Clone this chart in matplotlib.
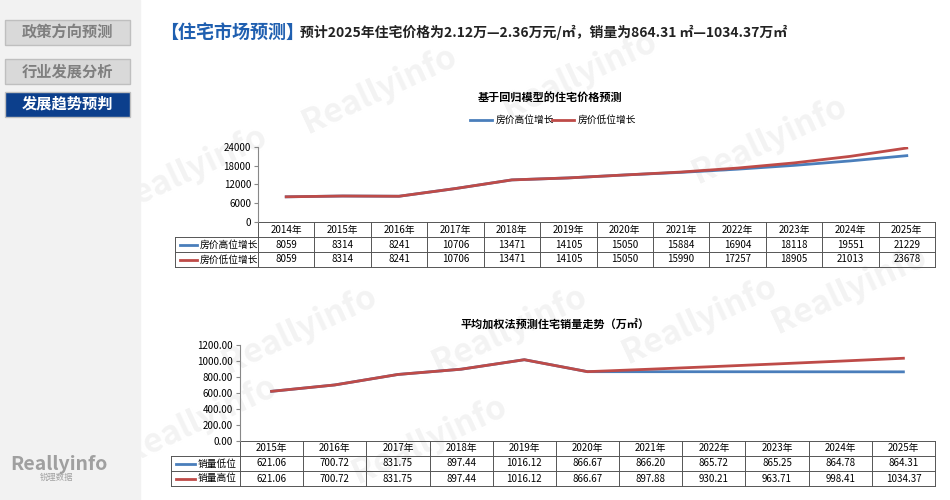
import matplotlib
matplotlib.use("Agg")
import matplotlib.pyplot as plt
from matplotlib.patches import Rectangle
import matplotlib.transforms as mt

plt.rcParams['font.family'] = ['Noto Sans CJK SC', 'DejaVu Sans']

years_top = ["2014年","2015年","2016年","2017年","2018年","2019年","2020年","2021年","2022年","2023年","2024年","2025年"]
price_high = [8059, 8314, 8241, 10706, 13471, 14105, 15050, 15884, 16904, 18118, 19551, 21229]
price_low = [8059, 8314, 8241, 10706, 13471, 14105, 15050, 15990, 17257, 18905, 21013, 23678]
years_bot = ["2015年","2016年","2017年","2018年","2019年","2020年","2021年","2022年","2023年","2024年","2025年"]
sales_low = [621.06, 700.72, 831.75, 897.44, 1016.12, 866.67, 866.20, 865.72, 865.25, 864.78, 864.31]
sales_high = [621.06, 700.72, 831.75, 897.44, 1016.12, 866.67, 897.88, 930.21, 963.71, 998.41, 1034.37]

BLUE = "#4a7ebb"
RED = "#be4b48"
W, H = 950, 500
fig = plt.figure(figsize=(9.5, 5), dpi=100)

def px(x0, y0, x1, y1):
    return [x0 / W, 1 - y1 / H, (x1 - x0) / W, (y1 - y0) / H]

bg = fig.add_axes([0, 0, 1, 1], zorder=0)
bg.set_xlim(0, W); bg.set_ylim(H, 0); bg.axis("off")
bg.add_patch(Rectangle((0, 0), 140, H, color="#f2f2f2", zorder=0))
for (x, y) in [(190, 170), (380, 90), (580, 75), (770, 140), (300, 330), (510, 330), (700, 320), (850, 290), (200, 420), (430, 440)]:
    bg.text(x, y, "Reallyinfo", fontsize=24, weight="bold", color="#f3f3f3",
            rotation=25, ha="center", va="center", zorder=1)

btns = [("政策方向预测", 18, False), ("行业发展分析", 57, False), ("发展趋势预判", 90, True)]
for t, y, sel in btns:
    bg.add_patch(Rectangle((5, y + 2), 125, 25, color="#0c3f8c" if sel else "#d9d9d9",
                           ec="#bfbfbf", zorder=2))
    bg.text(67, y + 14, t, ha="center", va="center", fontsize=11, weight="bold",
            color="white" if sel else "#7f7f7f", zorder=3)
bg.text(10, 470, "Reallyinfo", fontsize=14, weight="bold", color="#a0a0a0")
bg.text(40, 480, "锐理数据", fontsize=6, color="#a0a0a0")

bg.text(160, 32, "【住宅市场预测】", fontsize=13, weight="bold", color="#1f5fb0", va="center")
bg.text(300, 32, "预计2025年住宅价格为2.12万—2.36万元/㎡，销量为864.31 ㎡—1034.37万㎡",
        fontsize=10, weight="bold", color="#222222", va="center")

def chart(rect, cats, series, names, colors, yticks, fmt, title, title_xy, legend, lab_w, rowh):
    ax = fig.add_axes(px(*rect), zorder=2)
    n = len(cats)
    x = list(range(n))
    for s, c in zip(series, colors):
        ax.plot(x, s, color=c, lw=2, zorder=3)
    ax.set_xlim(-0.5, n - 0.5)
    ax.set_ylim(yticks[0], yticks[-1])
    ax.set_yticks(yticks)
    ax.set_yticklabels([fmt(v) for v in yticks], fontsize=7)
    ax.set_xticks([])
    for sp in ["top", "right", "bottom"]:
        ax.spines[sp].set_visible(False)
    ax.spines["left"].set_color("#888888")
    ax.tick_params(axis="y", length=3, color="#888888", pad=2)
    ax.patch.set_alpha(0)
    ph = rect[3] - rect[1]
    r = rowh / ph
    tr = mt.blended_transform_factory(ax.transData, ax.transAxes)
    left = -0.5 - lab_w
    kw = dict(transform=tr, clip_on=False, color="#555555", lw=0.7)
    for k in range(4):
        yy = -k * r
        ax.plot([left if k > 0 else -0.5, n - 0.5], [yy, yy], **kw)
    ax.plot([left, left], [-r, -3 * r], **kw)
    for i in range(n + 1):
        ax.plot([i - 0.5, i - 0.5], [0, -3 * r], **kw)
    for i, c in enumerate(cats):
        ax.text(i, -0.5 * r, c, transform=tr, ha="center", va="center", fontsize=7)
    for j, (s, nm, c) in enumerate(zip(series, names, colors)):
        yy = -(1.5 + j) * r
        ax.plot([left + 0.08, left + 0.38], [yy, yy], transform=tr, clip_on=False, color=c, lw=2)
        ax.text(left + 0.43, yy, nm, transform=tr, va="center", fontsize=7)
        for i, v in enumerate(s):
            ax.text(i, yy, fmt(v), transform=tr, ha="center", va="center", fontsize=7)
    bg.text(title_xy[0], title_xy[1], title, ha="center", va="center", fontsize=8, weight="bold", zorder=3)
    if legend:
        lx, ly = legend
        for j, (nm, c) in enumerate(zip(names, colors)):
            x0 = lx + j * 82
            bg.plot([x0, x0 + 22], [ly, ly], color=c, lw=2, zorder=3)
            bg.text(x0 + 26, ly, nm, va="center", fontsize=7, zorder=3)
    return ax

chart((258, 147, 935, 222), years_top, [price_high, price_low], ["房价高位增长", "房价低位增长"],
      [BLUE, RED], [0, 6000, 12000, 18000, 24000], lambda v: f"{v:.0f}",
      "基于回归模型的住宅价格预测", (550, 98), (470, 120), 1.47, 15)
chart((240, 345, 935, 441), years_bot, [sales_low, sales_high], ["销量低位", "销量高位"],
      [BLUE, RED], [0, 200, 400, 600, 800, 1000, 1200], lambda v: f"{v:.2f}",
      "平均加权法预测住宅销量走势（万㎡）", (555, 325), None, 1.10, 15)
fig.savefig("out.png", dpi=100, facecolor="white")
